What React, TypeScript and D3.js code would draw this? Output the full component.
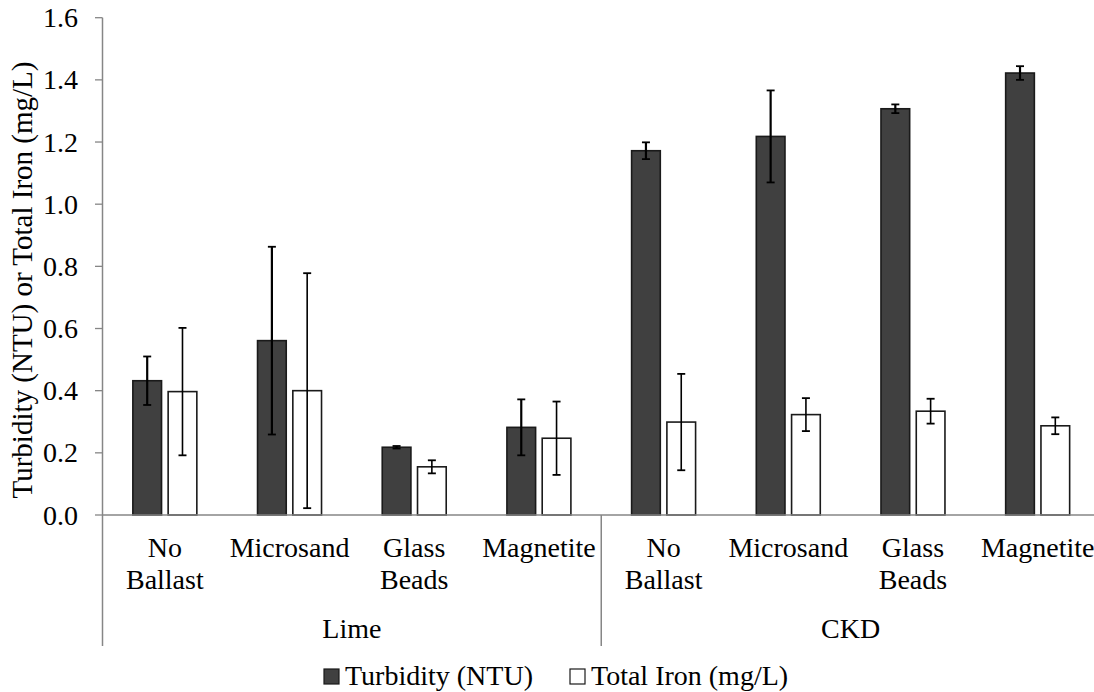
import React from "react";
import * as d3 from "d3";

const categories = ["No Ballast", "Microsand", "Glass Beads", "Magnetite", "No Ballast", "Microsand", "Glass Beads", "Magnetite"];
const categoryLines = [["No", "Ballast"], ["Microsand"], ["Glass", "Beads"], ["Magnetite"], ["No", "Ballast"], ["Microsand"], ["Glass", "Beads"], ["Magnetite"]];
const groups = ["Lime", "CKD"];
const seriesNames = ["Turbidity (NTU)", "Total Iron (mg/L)"];
const turbidity = [0.432, 0.561, 0.218, 0.282, 1.172, 1.218, 1.307, 1.422];
const turbidityErr = [0.078, 0.302, 0.004, 0.09, 0.027, 0.148, 0.014, 0.022];
const iron = [0.397, 0.4, 0.155, 0.247, 0.299, 0.323, 0.334, 0.287];
const ironErr = [0.205, 0.378, 0.021, 0.118, 0.155, 0.053, 0.04, 0.027];
const yTicks = [0, 0.2, 0.4, 0.6, 0.8, 1.0, 1.2, 1.4, 1.6];

const FONT = '"Liberation Serif"';
const AXIS = "#868686";
const TS: React.CSSProperties = { fontFamily: FONT, fontSize: 28 };

export default function App() {
  const left = 102.5;
  const right = 1100;
  const top = 17.7;
  const base = 515;
  const y = d3.scaleLinear().domain([0, 1.6]).range([base, top]);
  const x0 = d3.scaleBand<number>().domain(d3.range(categories.length)).range([left, right]).paddingInner(0).paddingOuter(0);
  const x1 = d3.scaleBand<number>().domain([0, 1]).range([0, x0.bandwidth()]).paddingInner(0.187).paddingOuter(0.86);
  const bw = x1.bandwidth();
  const series = [
    { vals: turbidity, err: turbidityErr, fill: "#404040", stroke: "#1a1a1a", ew: 2.2 },
    { vals: iron, err: ironErr, fill: "#ffffff", stroke: "#1a1a1a", ew: 1.6 },
  ];
  const groupEdges = [0, 4, 8].map((i) => left + i * x0.step());

  return (
    <svg width={1094} height={692} style={{ position: "absolute", left: 0, top: 0, background: "#fff" }}>
      <rect width={1094} height={692} fill="#fff" />
      {yTicks.map((t) => (
        <g key={t}>
          <line x1={95} x2={left} y1={y(t)} y2={y(t)} stroke={AXIS} strokeWidth={1.3} />
          <text x={78} y={y(t)} dy="0.34em" textAnchor="end" style={TS} fill="#000">{t.toFixed(1)}</text>
        </g>
      ))}
      {categories.map((c, i) =>
        series.map((s, k) => {
          const bx = (x0(i) as number) + (x1(k) as number);
          const v = s.vals[i];
          const e = s.err[i];
          const cx = bx + bw / 2;
          return (
            <g key={`${i}-${k}`}>
              <rect x={bx} y={y(v)} width={bw} height={base - y(v)} fill={s.fill} stroke={s.stroke} strokeWidth={1.6} />
              <line x1={cx} x2={cx} y1={y(v + e)} y2={y(v - e)} stroke="#000" strokeWidth={s.ew} />
              <line x1={cx - 4} x2={cx + 4} y1={y(v + e)} y2={y(v + e)} stroke="#000" strokeWidth={1.8} />
              <line x1={cx - 4} x2={cx + 4} y1={y(v - e)} y2={y(v - e)} stroke="#000" strokeWidth={1.8} />
            </g>
          );
        })
      )}
      <line x1={left} x2={left} y1={top} y2={646} stroke={AXIS} strokeWidth={1.5} />
      <line x1={left} x2={right} y1={base} y2={base} stroke={AXIS} strokeWidth={1.5} />
      {groupEdges.slice(1).map((gx, i) => (
        <line key={i} x1={gx} x2={gx} y1={base} y2={646} stroke={AXIS} strokeWidth={1.5} />
      ))}
      {categoryLines.map((lines, i) => (
        <text key={i} x={(x0(i) as number) + x0.bandwidth() / 2} y={557} textAnchor="middle" style={TS} fill="#000">
          {lines.map((l, j) => (
            <tspan key={j} x={(x0(i) as number) + x0.bandwidth() / 2} dy={j === 0 ? 0 : 32}>{l}</tspan>
          ))}
        </text>
      ))}
      {groups.map((g, i) => (
        <text key={g} x={(groupEdges[i] + groupEdges[i + 1]) / 2} y={638} textAnchor="middle" style={TS} fill="#000">{g}</text>
      ))}
      <text transform="translate(32,280) rotate(-90)" textAnchor="middle" style={{ ...TS, fontSize: 29 }} fill="#000">Turbidity (NTU) or Total Iron (mg/L)</text>
      {seriesNames.map((n, k) => {
        const tx = k === 0 ? 345 : 591;
        return (
          <g key={n}>
            <rect x={tx - 21} y={669} width={15} height={15} fill={series[k].fill} stroke="#1a1a1a" strokeWidth={1.2} />
            <text x={tx} y={685} style={TS} fill="#000">{n}</text>
          </g>
        );
      })}
    </svg>
  );
}
